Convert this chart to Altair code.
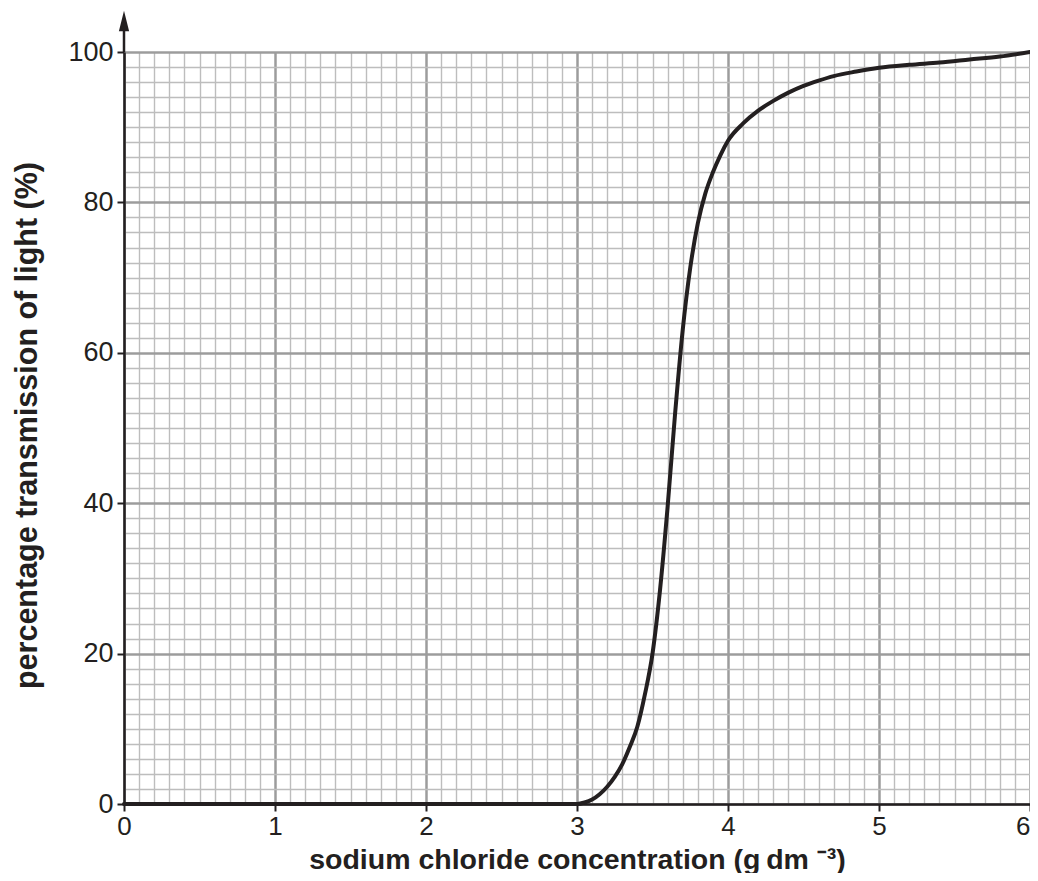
import altair as alt
import pandas as pd

# sodium chloride concentration (g dm-3) and % transmission of light
conc = [0.0, 1.0, 2.0, 3.0, 3.05, 3.1, 3.15, 3.2, 3.25, 3.3, 3.35, 3.4, 3.45, 3.5,
        3.55, 3.6, 3.65, 3.7, 3.75, 3.8, 3.85, 3.9, 3.95, 4.0,
        4.1, 4.2, 4.3, 4.4, 4.5, 4.6, 4.7, 4.85, 5.0, 5.2, 5.4, 5.6, 5.8, 6.0]
trans = [0.0, 0.0, 0.0, 0.0, 0.2, 0.6, 1.3, 2.3, 3.6, 5.3, 7.6, 10.3, 14.6, 20.0,
         28.5, 39.5, 52.0, 63.0, 71.3, 77.2, 81.2, 84.0, 86.3, 88.2,
         90.5, 92.2, 93.5, 94.6, 95.5, 96.2, 96.8, 97.4, 97.9, 98.3, 98.6, 99.0, 99.4, 100.0]

x_major = [0, 1, 2, 3, 4, 5, 6]
y_major = [0, 20, 40, 60, 80, 100]
x_grid = [round(i * 0.1, 1) for i in range(61)]
y_grid = [i * 2 for i in range(51)]

df = pd.DataFrame({"conc": conc, "trans": trans})

INK = "#231f20"
MAJ = "#9c9c9c"
MIN = "#bdbdbd"
FONT = "Liberation Sans"

x_is_major = "abs(datum.value - round(datum.value)) < 0.001"
y_is_major = "datum.value % 20 === 0"

x_axis = alt.Axis(
    values=x_grid,
    grid=True,
    gridColor={"condition": {"test": x_is_major, "value": MAJ}, "value": MIN},
    gridWidth={"condition": {"test": x_is_major, "value": 2.5}, "value": 1.4},
    gridOpacity=1,
    ticks=True,
    tickColor={"condition": {"test": x_is_major, "value": INK}, "value": "transparent"},
    tickSize=7,
    tickWidth=2,
    domain=True,
    domainColor=INK,
    domainWidth=2.5,
    labelExpr=x_is_major + " ? '' + round(datum.value) : ''",
    labelOverlap=False,
    labelFlush=False,
    labelAlign={"condition": {"test": "datum.value > 5.9", "value": "right"}, "value": "center"},
    labelFont=FONT,
    labelFontSize=26,
    labelColor=INK,
    labelPadding=2,
    title="sodium chloride concentration (g\u2009dm \u207b\u00b3)",
    titleFont=FONT,
    titleFontSize=28.5,
    titleFontWeight="bold",
    titleColor=INK,
    titleBaseline="alphabetic",
    titleY=64,
)

y_axis = alt.Axis(
    values=y_grid,
    grid=True,
    gridColor={"condition": {"test": y_is_major, "value": MAJ}, "value": MIN},
    gridWidth={"condition": {"test": y_is_major, "value": 2.5}, "value": 1.4},
    gridOpacity=1,
    ticks=True,
    tickColor={"condition": {"test": y_is_major, "value": INK}, "value": "transparent"},
    tickSize=7,
    tickWidth=2,
    domain=True,
    domainColor=INK,
    domainWidth=2.5,
    labelExpr=y_is_major + " ? '' + datum.value : ''",
    labelOverlap=False,
    labelFlush=False,
    labelFont=FONT,
    labelFontSize=27,
    labelColor=INK,
    labelPadding=4,
    title="percentage transmission of light (%)",
    titleFont=FONT,
    titleFontSize=30.5,
    titleFontWeight="bold",
    titleColor=INK,
    titleAngle=-90,
    titleBaseline="alphabetic",
    titleAlign="center",
    titleX=-88,
    titleY=373,
)

curve = alt.Chart(df).mark_line(
    color=INK, strokeWidth=4, interpolate="monotone", strokeCap="round", clip=False
).encode(
    x=alt.X("conc:Q", scale=alt.Scale(domain=[0, 6], nice=False, zero=False), axis=x_axis),
    y=alt.Y("trans:Q", scale=alt.Scale(domain=[0, 100], nice=False), axis=y_axis),
)

deco = pd.DataFrame({"k": [0]})
arrow_stem = alt.Chart(deco).mark_rule(color=INK, strokeWidth=2.5).encode(
    x=alt.value(0), y=alt.value(-30), y2=alt.value(0)
)
arrow_head = alt.Chart(deco).mark_point(
    shape="M0,-1L0.5,1L-0.5,1Z", filled=True, color=INK, opacity=1, size=420
).encode(x=alt.value(0), y=alt.value(-31))

chart = alt.layer(curve, arrow_stem, arrow_head).properties(
    width=906,
    height=752,
    autosize=alt.AutoSizeParams(type="none"),
    padding={"left": 116, "top": 44, "right": 0, "bottom": 69},
    background="white",
).configure_view(stroke=None)

chart.save("out.html", embed_options={"renderer": "svg", "actions": False})
